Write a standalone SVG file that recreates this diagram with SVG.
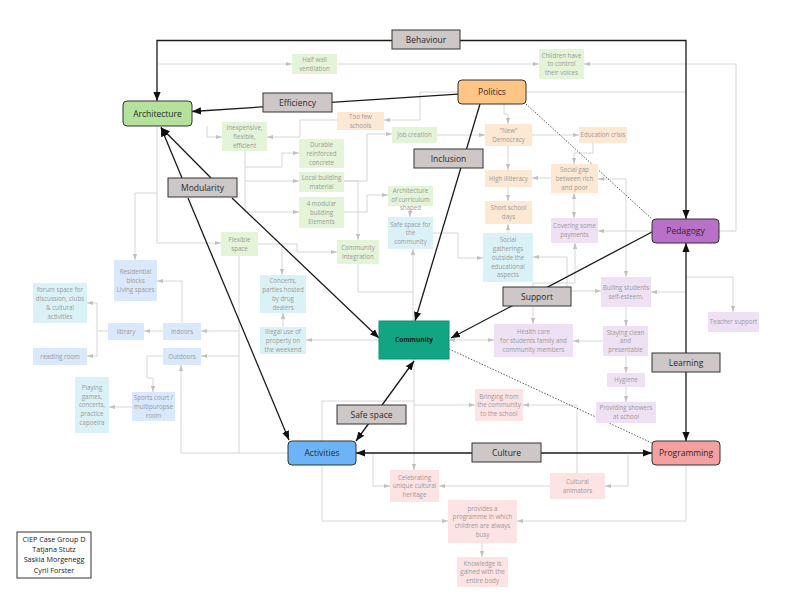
<svg xmlns="http://www.w3.org/2000/svg" width="800" height="598" viewBox="0 0 800 598">
<defs>
<marker id="ag" viewBox="0 0 10 10" refX="10" refY="5" markerWidth="6" markerHeight="6" orient="auto-start-reverse" markerUnits="userSpaceOnUse"><path d="M0,1.5 L10,5 L0,8.5 z" fill="#c4bfbf"/></marker>
<marker id="ab" viewBox="0 0 10 10" refX="10" refY="5" markerWidth="9" markerHeight="9" orient="auto-start-reverse" markerUnits="userSpaceOnUse"><path d="M0,1 L10,5 L0,9 z" fill="#111"/></marker>
</defs>
<style>
.g{fill:none;stroke:#d8d4d4;stroke-width:1}
.ga{fill:none;stroke:#d8d4d4;stroke-width:1;marker-end:url(#ag)}
.gb{fill:none;stroke:#d8d4d4;stroke-width:1;marker-end:url(#ag);marker-start:url(#ag)}
.b{fill:none;stroke:#1a1a1a;stroke-width:1.3;marker-end:url(#ab)}
.bb{fill:none;stroke:#1a1a1a;stroke-width:1.3;marker-end:url(#ab);marker-start:url(#ab)}
.bl{fill:none;stroke:#1a1a1a;stroke-width:1.3}
.d{fill:none;stroke:#333;stroke-width:0.8;stroke-dasharray:1.5,1.5}
.main{stroke:#333;stroke-width:1}
.lab{fill:#cdc7c7;stroke:#333;stroke-width:1}
.mt{font-family:"Open Sans","DejaVu Sans",sans-serif;font-size:8.5px;fill:#2a2a2a;text-anchor:middle}
.st{font-family:"Open Sans","DejaVu Sans",sans-serif;font-size:6.2px;fill:#9a9a9a;text-anchor:middle}
.green{fill:#e4f4d8}.orange{fill:#fde8d3}.cyan{fill:#daf2f6}.blue{fill:#d9e8fa}.purple{fill:#eee1f3}.pink{fill:#fde3e3}
</style>
<rect width="800" height="598" fill="#ffffff"/>
<g id="connectors">
<path class="ga" d="M159,64 H292"/>
<path class="ga" d="M337,64 H539"/>
<path class="ga" d="M719,231 H736 V64 H584"/>
<path class="ga" d="M458,92 H420 V120 H384"/>
<path class="g" d="M526,92 H686"/>
<path class="ga" d="M337,120 H300 V137 H267"/>
<path class="ga" d="M207,126 V137 H222"/>
<path class="ga" d="M157,126 V243 H221"/>
<path class="ga" d="M157,193 H135 V260"/>
<path class="ga" d="M245,151 V212 H299"/>
<path class="ga" d="M245,167 H282 V153 H299"/>
<path class="ga" d="M245,181 H299"/>
<path class="ga" d="M344,181 H367 V134 H392"/>
<path class="ga" d="M344,181 H358 V240"/>
<path class="ga" d="M344,212 H367 V195 H388"/>
<path class="ga" d="M437,135 H485"/>
<path class="ga" d="M504,104 V114 H508 V124"/>
<path class="ga" d="M532,135 H579"/>
<path class="ga" d="M508,146 V170"/>
<path class="ga" d="M593,143 V153 H574 V164"/>
<path class="ga" d="M551,178 H532"/>
<path class="ga" d="M508,187 V201"/>
<path class="ga" d="M508,233 V224"/>
<path class="gb" d="M574,193 V218"/>
<path class="gb" d="M626,277 V179 H598"/>
<path class="ga" d="M652,231 H598"/>
<path class="ga" d="M533,287 V283 H575 V243"/>
<path class="ga" d="M567,287 V257 H533"/>
<path class="ga" d="M571,291 H601"/>
<path class="ga" d="M533,307 V324"/>
<path class="ga" d="M686,292 H651"/>
<path class="ga" d="M686,277 H733 V312"/>
<path class="ga" d="M626,307 V326"/>
<path class="ga" d="M603,341 H573"/>
<path class="ga" d="M626,356 V373"/>
<path class="ga" d="M626,387 V402"/>
<path class="gb" d="M449,340 H494"/>
<path class="ga" d="M379,340 H306"/>
<path class="ga" d="M283,327 V313"/>
<path class="ga" d="M258,244 H297 V252 H337"/>
<path class="ga" d="M282,244 V275"/>
<path class="g" d="M358,264 V292 H413"/>
<path class="ga" d="M413,321 V249"/>
<path class="ga" d="M433,233 H458 V258 H483"/>
<path class="ga" d="M410,208 V217"/>
<path class="g" d="M239,256 V453"/>
<path class="ga" d="M239,331 H201"/>
<path class="ga" d="M239,356 H201"/>
<path class="ga" d="M288,453 H181 V365"/>
<path class="ga" d="M163,331 H144"/>
<path class="ga" d="M182,323 V281 H157"/>
<path class="g" d="M108,331 H97 M97,303 V356"/>
<path class="ga" d="M97,303 H87"/>
<path class="ga" d="M97,356 H87"/>
<path class="ga" d="M163,356 H147 V378 H153 V392"/>
<path class="ga" d="M132,407 H109"/>
<path class="ga" d="M322,465 V521 H448"/>
<path class="ga" d="M686,465 V521 H517"/>
<path class="ga" d="M482,543 V557"/>
<path class="ga" d="M373,453 V486 H390"/>
<path class="ga" d="M550,486 H439"/>
<path class="ga" d="M414,359 V470"/>
<path class="ga" d="M414,405 H475"/>
<path class="g" d="M322,441 V401 H414"/>
<path class="ga" d="M577,473 V405 H523"/>
<path class="ga" d="M628,455 V486 H605"/>
<path class="bb" d="M157,101 V40.5 H686 V219"/>
<path class="b" d="M458,94.2 L192,111.5"/>
<path class="b" d="M182,178 L161,127.5"/>
<path class="b" d="M211,178 L161,127.5"/>
<path class="b" d="M188,198 L289,440"/>
<path class="b" d="M232,198 L379,338"/>
<path class="b" d="M480,104 L415,321"/>
<path class="b" d="M652,232 L451,338"/>
<path class="bb" d="M414,361 L356,441"/>
<path class="bb" d="M356,453 H652"/>
<path class="bb" d="M686,243 V441"/>
<path class="d" d="M526,104 L652,219"/>
<path class="d" d="M449,349 L652,443"/>
</g>
<g id="architecture"><rect class="main" x="123" y="101" width="69" height="25" rx="4" fill="#b5e29a"/><text class="mt" x="157.5" y="116.5">Architecture</text></g>
<g id="politics"><rect class="main" x="458" y="80" width="68" height="24" rx="4" fill="#ffc584"/><text class="mt" x="492" y="95">Politics</text></g>
<g id="pedagogy"><rect class="main" x="652" y="219" width="67" height="24" rx="4" fill="#b970c8"/><text class="mt" x="685.5" y="234">Pedagogy</text></g>
<g id="community"><rect x="379" y="321" width="70" height="38" fill="#12a584" stroke="#0f9373" stroke-width="1"/><text x="414" y="342.3" font-family="'Open Sans','DejaVu Sans',sans-serif" font-size="6.5" font-weight="bold" fill="#1a1a1a" text-anchor="middle">Community</text></g>
<g id="activities"><rect class="main" x="288" y="441" width="68" height="24" rx="4" fill="#6cb4f7"/><text class="mt" x="322" y="456">Activities</text></g>
<g id="programming"><rect class="main" x="652" y="441" width="68" height="24" rx="4" fill="#f5a0a0"/><text class="mt" x="686" y="456">Programming</text></g>
<g id="lbl-behaviour"><rect class="lab" x="392" y="30" width="68" height="19"/><text class="mt" x="426" y="42.5">Behaviour</text></g>
<g id="lbl-efficiency"><rect class="lab" x="263" y="93" width="69" height="19"/><text class="mt" x="297.5" y="105.5">Efficiency</text></g>
<g id="lbl-modularity"><rect class="lab" x="168" y="178" width="69" height="19"/><text class="mt" x="202.5" y="190.5">Modularity</text></g>
<g id="lbl-inclusion"><rect class="lab" x="414" y="149" width="69" height="19"/><text class="mt" x="448.5" y="161.5">Inclusion</text></g>
<g id="lbl-support"><rect class="lab" x="503" y="287" width="68" height="19"/><text class="mt" x="537" y="299.5">Support</text></g>
<g id="lbl-learning"><rect class="lab" x="652" y="353" width="68" height="19"/><text class="mt" x="686" y="365.5">Learning</text></g>
<g id="lbl-safespace"><rect class="lab" x="337" y="405" width="69" height="19"/><text class="mt" x="371.5" y="417.5">Safe space</text></g>
<g id="lbl-culture"><rect class="lab" x="472" y="443" width="69" height="19"/><text class="mt" x="506.5" y="455.5">Culture</text></g>
<g id="n-halfwall"><rect class="green" x="292" y="54" width="45" height="20"/><text class="st" x="314.5" y="61.9">Half wall<tspan x="314.5" dy="8.8">ventilation</tspan></text></g>
<g id="n-children"><rect class="green" x="539" y="49" width="45" height="30"/><text class="st" x="561.5" y="57.5">Children have<tspan x="561.5" dy="8.8">to control</tspan><tspan x="561.5" dy="8.8">their voices</tspan></text></g>
<g id="n-inexpensive"><rect class="green" x="222" y="122" width="45" height="29"/><text class="st" x="244.5" y="130">Inexpensive,<tspan x="244.5" dy="8.8">flexible,</tspan><tspan x="244.5" dy="8.8">efficient</tspan></text></g>
<g id="n-durable"><rect class="green" x="299" y="139" width="45" height="29"/><text class="st" x="321.5" y="147">Durable<tspan x="321.5" dy="8.8">reinforced</tspan><tspan x="321.5" dy="8.8">concrete</tspan></text></g>
<g id="n-local"><rect class="green" x="299" y="172" width="45" height="20"/><text class="st" x="321.5" y="179.9">Local building<tspan x="321.5" dy="8.8">material</tspan></text></g>
<g id="n-modular"><rect class="green" x="299" y="197" width="45" height="31"/><text class="st" x="321.5" y="206">4 modular<tspan x="321.5" dy="8.8">building</tspan><tspan x="321.5" dy="8.8">Elements</tspan></text></g>
<g id="n-flexible"><rect class="green" x="221" y="232" width="37" height="24"/><text class="st" x="239.5" y="241.9">Flexible<tspan x="239.5" dy="8.8">space</tspan></text></g>
<g id="n-integration"><rect class="green" x="337" y="240" width="42" height="24"/><text class="st" x="358" y="249.9">Community<tspan x="358" dy="8.8">Integration</tspan></text></g>
<g id="n-job"><rect class="green" x="392" y="127" width="45" height="16"/><text class="st" x="414.5" y="137.3">Job creation</text></g>
<g id="n-curriculum"><rect class="green" x="388" y="186" width="45" height="20"/><text class="st" x="410.5" y="192.8">Architecture<tspan x="410.5" dy="8.8">of curriculum</tspan><tspan x="410.5" dy="8.8">shaped</tspan></text></g>
<g id="n-toofew"><rect class="orange" x="337" y="112" width="47" height="18"/><text class="st" x="360.5" y="118.9">Too few<tspan x="360.5" dy="8.8">schools</tspan></text></g>
<g id="n-democracy"><rect class="orange" x="485" y="124" width="47" height="22"/><text class="st" x="508.5" y="132.9">"New"<tspan x="508.5" dy="8.8">Democracy</tspan></text></g>
<g id="n-crisis"><rect class="orange" x="579" y="127" width="48" height="16"/><text class="st" x="603" y="137.3">Education crisis</text></g>
<g id="n-illiteracy"><rect class="orange" x="485" y="170" width="47" height="17"/><text class="st" x="508.5" y="180.8">High illiteracy</text></g>
<g id="n-socialgap"><rect class="orange" x="551" y="164" width="47" height="29"/><text class="st" x="574.5" y="172">Social gap<tspan x="574.5" dy="8.8">between rich</tspan><tspan x="574.5" dy="8.8">and poor</tspan></text></g>
<g id="n-short"><rect class="orange" x="485" y="201" width="47" height="23"/><text class="st" x="508.5" y="210.4">Short school<tspan x="508.5" dy="8.8">days</tspan></text></g>
<g id="n-safecommunity"><rect class="cyan" x="388" y="217" width="45" height="32"/><text class="st" x="410.5" y="226.5">Safe space for<tspan x="410.5" dy="8.8">the</tspan><tspan x="410.5" dy="8.8">community</tspan></text></g>
<g id="n-gatherings"><rect class="cyan" x="483" y="233" width="50" height="49"/><text class="st" x="508" y="242.2">Social<tspan x="508" dy="8.8">gatherings</tspan><tspan x="508" dy="8.8">outside the</tspan><tspan x="508" dy="8.8">educational</tspan><tspan x="508" dy="8.8">aspects</tspan></text></g>
<g id="n-concerts"><rect class="cyan" x="260" y="275" width="46" height="38"/><text class="st" x="283" y="283.1">Concerts,<tspan x="283" dy="8.8">parties hosted</tspan><tspan x="283" dy="8.8">by drug</tspan><tspan x="283" dy="8.8">dealers</tspan></text></g>
<g id="n-illegal"><rect class="cyan" x="260" y="327" width="46" height="27"/><text class="st" x="283" y="334">Illegal use of<tspan x="283" dy="8.8">property on</tspan><tspan x="283" dy="8.8">the weekend</tspan></text></g>
<g id="n-forum"><rect class="cyan" x="33" y="283" width="54" height="40"/><text class="st" x="60" y="292.1">forum space for<tspan x="60" dy="8.8">discussion, clubs</tspan><tspan x="60" dy="8.8">&amp; cultural</tspan><tspan x="60" dy="8.8">activities</tspan></text></g>
<g id="n-playing"><rect class="cyan" x="75" y="377" width="34" height="56"/><text class="st" x="92" y="389.7">Playing<tspan x="92" dy="8.8">games,</tspan><tspan x="92" dy="8.8">concerts,</tspan><tspan x="92" dy="8.8">practice</tspan><tspan x="92" dy="8.8">capoeira</tspan></text></g>
<g id="n-residential"><rect class="blue" x="114" y="260" width="43" height="41"/><text class="st" x="135.5" y="274">Residential<tspan x="135.5" dy="8.8">blocks</tspan><tspan x="135.5" dy="8.8">Living spaces</tspan></text></g>
<g id="n-library"><rect class="blue" x="108" y="323" width="36" height="17"/><text class="st" x="126" y="333.8">library</text></g>
<g id="n-reading"><rect class="blue" x="33" y="348" width="54" height="17"/><text class="st" x="60" y="358.8">reading room</text></g>
<g id="n-indoors"><rect class="blue" x="163" y="323" width="38" height="17"/><text class="st" x="182" y="333.8">Indoors</text></g>
<g id="n-outdoors"><rect class="blue" x="163" y="348" width="38" height="17"/><text class="st" x="182" y="358.8">Outdoors</text></g>
<g id="n-sports"><rect class="blue" x="132" y="392" width="43" height="29"/><text class="st" x="153.5" y="400">Sports court /<tspan x="153.5" dy="8.8">multipuropse</tspan><tspan x="153.5" dy="8.8">room</tspan></text></g>
<g id="n-covering"><rect class="purple" x="551" y="218" width="47" height="25"/><text class="st" x="574.5" y="228.4">Covering some<tspan x="574.5" dy="8.8">payments</tspan></text></g>
<g id="n-esteem"><rect class="purple" x="601" y="277" width="50" height="30"/><text class="st" x="626" y="289.9">Builing students<tspan x="626" dy="8.8">self-esteem.</tspan></text></g>
<g id="n-teacher"><rect class="purple" x="708" y="312" width="51" height="20"/><text class="st" x="733.5" y="324.3">Teacher support</text></g>
<g id="n-health"><rect class="purple" x="494" y="324" width="79" height="33"/><text class="st" x="533.5" y="334">Health care<tspan x="533.5" dy="8.8">for students family and</tspan><tspan x="533.5" dy="8.8">community members</tspan></text></g>
<g id="n-clean"><rect class="purple" x="603" y="326" width="45" height="30"/><text class="st" x="625.5" y="334.5">Staying clean<tspan x="625.5" dy="8.8">and</tspan><tspan x="625.5" dy="8.8">presentable</tspan></text></g>
<g id="n-hygiene"><rect class="purple" x="607" y="373" width="38" height="14"/><text class="st" x="626" y="382.3">Hygiene</text></g>
<g id="n-showers"><rect class="purple" x="596" y="402" width="60" height="21"/><text class="st" x="626" y="410.4">Providing showers<tspan x="626" dy="8.8">at school</tspan></text></g>
<g id="n-bringing"><rect class="pink" x="475" y="389" width="48" height="32"/><text class="st" x="499" y="398.5">Bringing from<tspan x="499" dy="8.8">the community</tspan><tspan x="499" dy="8.8">to the school</tspan></text></g>
<g id="n-celebrating"><rect class="pink" x="390" y="470" width="49" height="32"/><text class="st" x="414.5" y="479.5">Celebrating<tspan x="414.5" dy="8.8">unique cultural</tspan><tspan x="414.5" dy="8.8">heritage</tspan></text></g>
<g id="n-animators"><rect class="pink" x="550" y="473" width="55" height="26"/><text class="st" x="577.5" y="483.9">Cultural<tspan x="577.5" dy="8.8">animators</tspan></text></g>
<g id="n-programme"><rect class="pink" x="448" y="500" width="69" height="43"/><text class="st" x="482.5" y="510.6">provides a<tspan x="482.5" dy="8.8">programme in which</tspan><tspan x="482.5" dy="8.8">children are always</tspan><tspan x="482.5" dy="8.8">busy</tspan></text></g>
<g id="n-knowledge"><rect class="pink" x="457" y="557" width="51" height="30"/><text class="st" x="482.5" y="565.5">Knowledge is<tspan x="482.5" dy="8.8">gained with the</tspan><tspan x="482.5" dy="8.8">entire body</tspan></text></g>
<g id="credits"><rect x="17" y="532" width="74" height="46" fill="#fff" stroke="#333" stroke-width="1"/><text x="54" y="541.5" font-family="'Open Sans','DejaVu Sans',sans-serif" font-size="7.2" fill="#222" text-anchor="middle">CIEP Case Group D<tspan x="54" dy="10.4">Tatjana Stutz</tspan><tspan x="54" dy="10.4">Saskia Morgenegg</tspan><tspan x="54" dy="10.4">Cyril Forster</tspan></text></g>
</svg>
